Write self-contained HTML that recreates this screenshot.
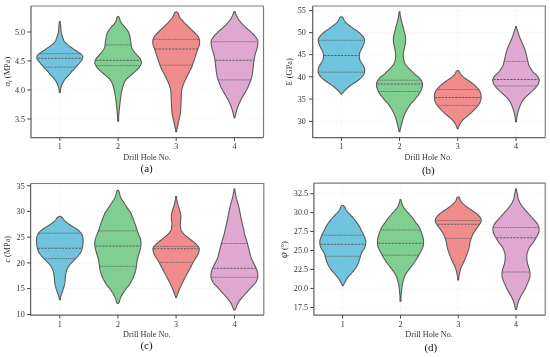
<!DOCTYPE html>
<html lang="en"><head><meta charset="utf-8"><title>Violin plots</title>
<style>html,body{margin:0;padding:0;background:#fff;}svg{display:block;}</style></head>
<body>
<svg style="will-change:transform" width="550" height="357" viewBox="0 0 550 357" font-family="'Liberation Serif', 'Times New Roman', serif" fill="#333">
<rect width="550" height="357" fill="#fff"/>
<line x1="31.0" y1="32.0" x2="263.5" y2="32.0" stroke="#f2f2f2" stroke-width="0.5"/>
<line x1="31.0" y1="60.9" x2="263.5" y2="60.9" stroke="#f2f2f2" stroke-width="0.5"/>
<line x1="31.0" y1="90.0" x2="263.5" y2="90.0" stroke="#f2f2f2" stroke-width="0.5"/>
<line x1="31.0" y1="119.0" x2="263.5" y2="119.0" stroke="#f2f2f2" stroke-width="0.5"/>
<line x1="59.8" y1="6.0" x2="59.8" y2="137.5" stroke="#f2f2f2" stroke-width="0.5"/>
<line x1="118.1" y1="6.0" x2="118.1" y2="137.5" stroke="#f2f2f2" stroke-width="0.5"/>
<line x1="176.2" y1="6.0" x2="176.2" y2="137.5" stroke="#f2f2f2" stroke-width="0.5"/>
<line x1="234.5" y1="6.0" x2="234.5" y2="137.5" stroke="#f2f2f2" stroke-width="0.5"/>
<path d="M59.30 21.50 L59.30 22.30 L59.30 23.10 L59.22 23.89 L59.07 24.69 L58.97 25.49 L58.89 26.29 L58.83 27.08 L58.78 27.88 L58.74 28.68 L58.69 29.48 L58.63 30.28 L58.55 31.07 L58.44 31.87 L58.27 32.67 L58.06 33.47 L57.82 34.26 L57.58 35.06 L57.34 35.86 L57.09 36.66 L56.83 37.46 L56.55 38.25 L56.28 39.05 L56.00 39.85 L55.68 40.65 L55.25 41.44 L54.63 42.24 L53.85 43.04 L52.99 43.84 L52.12 44.63 L51.18 45.43 L50.16 46.23 L49.06 47.03 L47.87 47.83 L46.66 48.62 L45.41 49.42 L44.17 50.22 L42.99 51.02 L41.82 51.81 L40.60 52.61 L39.35 53.41 L38.39 54.21 L37.75 55.01 L37.16 55.80 L36.87 56.60 L36.80 57.40 L36.92 58.20 L37.25 58.99 L37.66 59.79 L38.23 60.59 L38.90 61.39 L39.53 62.19 L40.16 62.98 L40.80 63.78 L41.47 64.58 L42.15 65.38 L42.86 66.17 L43.57 66.97 L44.28 67.77 L45.00 68.57 L45.73 69.37 L46.50 70.16 L47.33 70.96 L48.11 71.76 L48.74 72.56 L49.27 73.35 L49.88 74.15 L50.65 74.95 L51.45 75.75 L52.22 76.54 L52.96 77.34 L53.65 78.14 L54.30 78.94 L54.90 79.74 L55.43 80.53 L55.93 81.33 L56.38 82.13 L56.82 82.93 L57.22 83.72 L57.57 84.52 L57.87 85.32 L58.14 86.12 L58.39 86.92 L58.62 87.71 L58.84 88.51 L59.03 89.31 L59.22 90.11 L59.30 90.90 L59.30 91.70 L59.30 92.50 L60.30 92.50 L60.30 91.70 L60.30 90.90 L60.38 90.11 L60.57 89.31 L60.76 88.51 L60.98 87.71 L61.21 86.92 L61.46 86.12 L61.73 85.32 L62.03 84.52 L62.38 83.72 L62.78 82.93 L63.22 82.13 L63.67 81.33 L64.17 80.53 L64.70 79.74 L65.30 78.94 L65.95 78.14 L66.64 77.34 L67.38 76.54 L68.15 75.75 L68.95 74.95 L69.72 74.15 L70.33 73.35 L70.86 72.56 L71.49 71.76 L72.27 70.96 L73.10 70.16 L73.87 69.37 L74.60 68.57 L75.32 67.77 L76.03 66.97 L76.74 66.17 L77.45 65.38 L78.13 64.58 L78.80 63.78 L79.44 62.98 L80.07 62.19 L80.70 61.39 L81.37 60.59 L81.94 59.79 L82.35 58.99 L82.68 58.20 L82.80 57.40 L82.73 56.60 L82.44 55.80 L81.85 55.01 L81.21 54.21 L80.25 53.41 L79.00 52.61 L77.78 51.81 L76.61 51.02 L75.43 50.22 L74.19 49.42 L72.94 48.62 L71.73 47.83 L70.54 47.03 L69.44 46.23 L68.42 45.43 L67.48 44.63 L66.61 43.84 L65.75 43.04 L64.97 42.24 L64.35 41.44 L63.92 40.65 L63.60 39.85 L63.32 39.05 L63.05 38.25 L62.77 37.46 L62.51 36.66 L62.26 35.86 L62.02 35.06 L61.78 34.26 L61.54 33.47 L61.33 32.67 L61.16 31.87 L61.05 31.07 L60.97 30.28 L60.91 29.48 L60.86 28.68 L60.82 27.88 L60.77 27.08 L60.71 26.29 L60.63 25.49 L60.53 24.69 L60.38 23.89 L60.30 23.10 L60.30 22.30 L60.30 21.50Z" fill="#70c4dd" stroke="#5c5c5c" stroke-width="1.12" stroke-linejoin="round"/>
<line x1="39.45" y1="53.70" x2="80.15" y2="53.70" stroke="#5c5c5c" stroke-width="0.8" stroke-dasharray="1.1 0.7"/>
<line x1="37.46" y1="58.30" x2="82.14" y2="58.30" stroke="#5c5c5c" stroke-width="1.05" stroke-dasharray="2.3 1.1"/>
<line x1="44.19" y1="67.10" x2="75.41" y2="67.10" stroke="#5c5c5c" stroke-width="0.8" stroke-dasharray="1.1 0.7"/>
<path d="M117.60 16.55 L116.84 17.73 L116.51 18.90 L116.27 20.08 L115.87 21.26 L115.22 22.43 L114.43 23.61 L113.42 24.79 L112.37 25.97 L111.31 27.14 L110.30 28.32 L109.37 29.50 L108.53 30.67 L107.87 31.85 L107.31 33.03 L106.86 34.20 L106.53 35.38 L106.26 36.56 L106.04 37.74 L105.86 38.91 L105.69 40.09 L105.47 41.27 L105.30 42.44 L105.20 43.62 L105.12 44.80 L105.00 45.97 L104.70 47.15 L104.20 48.33 L103.61 49.51 L102.84 50.68 L101.96 51.86 L101.02 53.04 L99.97 54.21 L98.90 55.39 L97.76 56.57 L96.65 57.74 L95.92 58.92 L95.39 60.10 L95.03 61.27 L94.79 62.45 L94.88 63.63 L95.45 64.81 L96.08 65.98 L96.83 67.16 L97.73 68.34 L98.85 69.51 L100.08 70.69 L101.40 71.87 L102.80 73.04 L104.16 74.22 L105.52 75.40 L106.91 76.58 L108.33 77.75 L109.47 78.93 L110.42 80.11 L111.19 81.28 L111.82 82.46 L112.34 83.64 L112.78 84.81 L113.15 85.99 L113.48 87.17 L113.79 88.34 L114.07 89.52 L114.33 90.70 L114.59 91.88 L114.83 93.05 L115.04 94.23 L115.23 95.41 L115.40 96.58 L115.57 97.76 L115.72 98.94 L115.87 100.11 L116.02 101.29 L116.16 102.47 L116.29 103.65 L116.43 104.82 L116.56 106.00 L116.69 107.18 L116.81 108.35 L116.93 109.53 L117.05 110.71 L117.17 111.88 L117.27 113.06 L117.37 114.24 L117.48 115.42 L117.58 116.59 L117.60 117.77 L117.60 118.95 L117.60 120.12 L117.60 121.30 L118.60 121.30 L118.60 120.12 L118.60 118.95 L118.60 117.77 L118.62 116.59 L118.72 115.42 L118.83 114.24 L118.93 113.06 L119.03 111.88 L119.15 110.71 L119.27 109.53 L119.39 108.35 L119.51 107.18 L119.64 106.00 L119.77 104.82 L119.91 103.65 L120.04 102.47 L120.18 101.29 L120.33 100.11 L120.48 98.94 L120.63 97.76 L120.80 96.58 L120.97 95.41 L121.16 94.23 L121.37 93.05 L121.61 91.88 L121.87 90.70 L122.13 89.52 L122.41 88.34 L122.72 87.17 L123.05 85.99 L123.42 84.81 L123.86 83.64 L124.38 82.46 L125.01 81.28 L125.78 80.11 L126.73 78.93 L127.87 77.75 L129.29 76.58 L130.68 75.40 L132.04 74.22 L133.40 73.04 L134.80 71.87 L136.12 70.69 L137.35 69.51 L138.47 68.34 L139.37 67.16 L140.12 65.98 L140.75 64.81 L141.32 63.63 L141.41 62.45 L141.17 61.27 L140.81 60.10 L140.28 58.92 L139.55 57.74 L138.44 56.57 L137.30 55.39 L136.23 54.21 L135.18 53.04 L134.24 51.86 L133.36 50.68 L132.59 49.51 L132.00 48.33 L131.50 47.15 L131.20 45.97 L131.08 44.80 L131.00 43.62 L130.90 42.44 L130.73 41.27 L130.51 40.09 L130.34 38.91 L130.16 37.74 L129.94 36.56 L129.67 35.38 L129.34 34.20 L128.89 33.03 L128.33 31.85 L127.67 30.67 L126.83 29.50 L125.90 28.32 L124.89 27.14 L123.83 25.97 L122.78 24.79 L121.77 23.61 L120.98 22.43 L120.33 21.26 L119.93 20.08 L119.69 18.90 L119.36 17.73 L118.60 16.55Z" fill="#81cf90" stroke="#5c5c5c" stroke-width="1.12" stroke-linejoin="round"/>
<line x1="105.61" y1="44.90" x2="130.59" y2="44.90" stroke="#5c5c5c" stroke-width="0.8" stroke-dasharray="1.1 0.7"/>
<line x1="95.82" y1="60.30" x2="140.38" y2="60.30" stroke="#5c5c5c" stroke-width="1.05" stroke-dasharray="2.3 1.1"/>
<line x1="96.36" y1="65.60" x2="139.84" y2="65.60" stroke="#5c5c5c" stroke-width="0.8" stroke-dasharray="1.1 0.7"/>
<path d="M175.70 11.80 L174.29 13.15 L173.89 14.49 L173.48 15.84 L172.82 17.19 L171.86 18.54 L170.51 19.88 L169.40 21.23 L168.17 22.58 L166.81 23.92 L165.43 25.27 L164.08 26.62 L162.66 27.97 L161.22 29.31 L159.81 30.66 L158.45 32.01 L157.15 33.36 L155.86 34.70 L154.72 36.05 L153.88 37.40 L153.30 38.74 L152.89 40.09 L152.78 41.44 L152.76 42.79 L152.92 44.13 L153.30 45.48 L153.78 46.83 L154.22 48.17 L154.69 49.52 L155.15 50.87 L155.61 52.22 L156.08 53.56 L156.54 54.91 L156.98 56.26 L157.41 57.60 L157.84 58.95 L158.28 60.30 L158.74 61.65 L159.20 62.99 L159.68 64.34 L160.16 65.69 L160.66 67.03 L161.23 68.38 L161.94 69.73 L162.69 71.08 L163.39 72.42 L164.06 73.77 L164.72 75.12 L165.38 76.47 L166.05 77.81 L166.71 79.16 L167.35 80.51 L167.97 81.85 L168.57 83.20 L169.11 84.55 L169.58 85.90 L170.03 87.24 L170.38 88.59 L170.62 89.94 L170.80 91.28 L170.95 92.63 L171.05 93.98 L171.11 95.33 L171.16 96.67 L171.20 98.02 L171.23 99.37 L171.28 100.71 L171.33 102.06 L171.40 103.41 L171.48 104.76 L171.55 106.10 L171.63 107.45 L171.71 108.80 L171.78 110.14 L171.86 111.49 L171.99 112.84 L172.22 114.19 L172.48 115.53 L172.75 116.88 L173.06 118.23 L173.37 119.58 L173.66 120.92 L173.95 122.27 L174.23 123.62 L174.50 124.96 L174.78 126.31 L175.11 127.66 L175.47 129.01 L175.70 130.35 L175.70 131.70 L176.70 131.70 L176.70 130.35 L176.93 129.01 L177.29 127.66 L177.62 126.31 L177.90 124.96 L178.17 123.62 L178.45 122.27 L178.74 120.92 L179.03 119.58 L179.34 118.23 L179.65 116.88 L179.92 115.53 L180.18 114.19 L180.41 112.84 L180.54 111.49 L180.62 110.14 L180.69 108.80 L180.77 107.45 L180.85 106.10 L180.92 104.76 L181.00 103.41 L181.07 102.06 L181.12 100.71 L181.17 99.37 L181.20 98.02 L181.24 96.67 L181.29 95.33 L181.35 93.98 L181.45 92.63 L181.60 91.28 L181.78 89.94 L182.02 88.59 L182.37 87.24 L182.82 85.90 L183.29 84.55 L183.83 83.20 L184.43 81.85 L185.05 80.51 L185.69 79.16 L186.35 77.81 L187.02 76.47 L187.68 75.12 L188.34 73.77 L189.01 72.42 L189.71 71.08 L190.46 69.73 L191.17 68.38 L191.74 67.03 L192.24 65.69 L192.72 64.34 L193.20 62.99 L193.66 61.65 L194.12 60.30 L194.56 58.95 L194.99 57.60 L195.42 56.26 L195.86 54.91 L196.32 53.56 L196.79 52.22 L197.25 50.87 L197.71 49.52 L198.18 48.17 L198.62 46.83 L199.10 45.48 L199.48 44.13 L199.64 42.79 L199.62 41.44 L199.51 40.09 L199.10 38.74 L198.52 37.40 L197.68 36.05 L196.54 34.70 L195.25 33.36 L193.95 32.01 L192.59 30.66 L191.18 29.31 L189.74 27.97 L188.32 26.62 L186.97 25.27 L185.59 23.92 L184.23 22.58 L183.00 21.23 L181.89 19.88 L180.54 18.54 L179.58 17.19 L178.92 15.84 L178.51 14.49 L178.11 13.15 L176.70 11.80Z" fill="#f18c8c" stroke="#5c5c5c" stroke-width="1.12" stroke-linejoin="round"/>
<line x1="153.54" y1="39.40" x2="198.86" y2="39.40" stroke="#5c5c5c" stroke-width="0.8" stroke-dasharray="1.1 0.7"/>
<line x1="155.01" y1="49.00" x2="197.39" y2="49.00" stroke="#5c5c5c" stroke-width="1.05" stroke-dasharray="2.3 1.1"/>
<line x1="160.45" y1="65.10" x2="191.95" y2="65.10" stroke="#5c5c5c" stroke-width="0.8" stroke-dasharray="1.1 0.7"/>
<path d="M234.00 11.60 L233.71 12.79 L233.19 13.98 L232.74 15.18 L232.21 16.37 L231.62 17.56 L230.95 18.75 L230.14 19.94 L229.18 21.14 L228.15 22.33 L227.07 23.52 L225.94 24.71 L224.70 25.91 L223.38 27.10 L222.12 28.29 L220.86 29.48 L219.54 30.67 L218.19 31.87 L216.89 33.06 L215.72 34.25 L214.60 35.44 L213.57 36.63 L212.73 37.83 L211.97 39.02 L211.44 40.21 L211.16 41.40 L211.05 42.60 L211.14 43.79 L211.30 44.98 L211.50 46.17 L211.77 47.36 L212.06 48.56 L212.38 49.75 L212.73 50.94 L213.11 52.13 L213.47 53.32 L213.81 54.52 L214.09 55.71 L214.35 56.90 L214.58 58.09 L214.80 59.29 L215.00 60.48 L215.18 61.67 L215.34 62.86 L215.48 64.05 L215.60 65.25 L215.72 66.44 L215.84 67.63 L215.96 68.82 L216.10 70.01 L216.25 71.21 L216.41 72.40 L216.59 73.59 L216.80 74.78 L217.03 75.98 L217.29 77.17 L217.60 78.36 L217.99 79.55 L218.44 80.74 L218.89 81.94 L219.33 83.13 L219.80 84.32 L220.29 85.51 L220.83 86.70 L221.39 87.90 L221.99 89.09 L222.63 90.28 L223.32 91.47 L224.01 92.67 L224.68 93.86 L225.36 95.05 L226.04 96.24 L226.75 97.43 L227.46 98.63 L228.11 99.82 L228.67 101.01 L229.19 102.20 L229.71 103.39 L230.23 104.59 L230.73 105.78 L231.21 106.97 L231.65 108.16 L232.06 109.36 L232.43 110.55 L232.75 111.74 L233.03 112.93 L233.27 114.12 L233.53 115.32 L233.95 116.51 L234.00 117.70 L235.00 117.70 L235.05 116.51 L235.47 115.32 L235.73 114.12 L235.97 112.93 L236.25 111.74 L236.57 110.55 L236.94 109.36 L237.35 108.16 L237.79 106.97 L238.27 105.78 L238.77 104.59 L239.29 103.39 L239.81 102.20 L240.33 101.01 L240.89 99.82 L241.54 98.63 L242.25 97.43 L242.96 96.24 L243.64 95.05 L244.32 93.86 L244.99 92.67 L245.68 91.47 L246.37 90.28 L247.01 89.09 L247.61 87.90 L248.17 86.70 L248.71 85.51 L249.20 84.32 L249.67 83.13 L250.11 81.94 L250.56 80.74 L251.01 79.55 L251.40 78.36 L251.71 77.17 L251.97 75.98 L252.20 74.78 L252.41 73.59 L252.59 72.40 L252.75 71.21 L252.90 70.01 L253.04 68.82 L253.16 67.63 L253.28 66.44 L253.40 65.25 L253.52 64.05 L253.66 62.86 L253.82 61.67 L254.00 60.48 L254.20 59.29 L254.42 58.09 L254.65 56.90 L254.91 55.71 L255.19 54.52 L255.53 53.32 L255.89 52.13 L256.27 50.94 L256.62 49.75 L256.94 48.56 L257.23 47.36 L257.50 46.17 L257.70 44.98 L257.86 43.79 L257.95 42.60 L257.84 41.40 L257.56 40.21 L257.03 39.02 L256.27 37.83 L255.43 36.63 L254.40 35.44 L253.28 34.25 L252.11 33.06 L250.81 31.87 L249.46 30.67 L248.14 29.48 L246.88 28.29 L245.62 27.10 L244.30 25.91 L243.06 24.71 L241.93 23.52 L240.85 22.33 L239.82 21.14 L238.86 19.94 L238.05 18.75 L237.38 17.56 L236.79 16.37 L236.26 15.18 L235.81 13.98 L235.29 12.79 L235.00 11.60Z" fill="#dea8d1" stroke="#5c5c5c" stroke-width="1.12" stroke-linejoin="round"/>
<line x1="211.61" y1="41.70" x2="257.39" y2="41.70" stroke="#5c5c5c" stroke-width="0.8" stroke-dasharray="1.1 0.7"/>
<line x1="215.46" y1="60.20" x2="253.54" y2="60.20" stroke="#5c5c5c" stroke-width="1.05" stroke-dasharray="2.3 1.1"/>
<line x1="218.62" y1="79.90" x2="250.38" y2="79.90" stroke="#5c5c5c" stroke-width="0.8" stroke-dasharray="1.1 0.7"/>
<path d="M31.0 6.0 H263.5 V137.5" fill="none" stroke="#7c7c7c" stroke-width="1.15"/>
<path d="M31.0 6.0 V137.5 H263.5" fill="none" stroke="#636363" stroke-width="1.25"/>
<line x1="27.4" y1="32.0" x2="31.0" y2="32.0" stroke="#444" stroke-width="1"/>
<text x="25.1" y="34.7" font-size="8.1" text-anchor="end">5.0</text>
<line x1="27.4" y1="60.9" x2="31.0" y2="60.9" stroke="#444" stroke-width="1"/>
<text x="25.1" y="63.6" font-size="8.1" text-anchor="end">4.5</text>
<line x1="27.4" y1="90.0" x2="31.0" y2="90.0" stroke="#444" stroke-width="1"/>
<text x="25.1" y="92.7" font-size="8.1" text-anchor="end">4.0</text>
<line x1="27.4" y1="119.0" x2="31.0" y2="119.0" stroke="#444" stroke-width="1"/>
<text x="25.1" y="121.7" font-size="8.1" text-anchor="end">3.5</text>
<line x1="59.8" y1="137.5" x2="59.8" y2="140.9" stroke="#444" stroke-width="1"/>
<text x="59.8" y="149.1" font-size="8.1" text-anchor="middle">1</text>
<line x1="118.1" y1="137.5" x2="118.1" y2="140.9" stroke="#444" stroke-width="1"/>
<text x="118.1" y="149.1" font-size="8.1" text-anchor="middle">2</text>
<line x1="176.2" y1="137.5" x2="176.2" y2="140.9" stroke="#444" stroke-width="1"/>
<text x="176.2" y="149.1" font-size="8.1" text-anchor="middle">3</text>
<line x1="234.5" y1="137.5" x2="234.5" y2="140.9" stroke="#444" stroke-width="1"/>
<text x="234.5" y="149.1" font-size="8.1" text-anchor="middle">4</text>
<text x="147.1" y="159.8" font-size="8.2" text-anchor="middle">Drill Hole No.</text>
<text x="146.6" y="171.6" font-size="11" text-anchor="middle" fill="#111">(a)</text>
<line x1="312.7" y1="10.6" x2="545.3" y2="10.6" stroke="#f2f2f2" stroke-width="0.5"/>
<line x1="312.7" y1="32.6" x2="545.3" y2="32.6" stroke="#f2f2f2" stroke-width="0.5"/>
<line x1="312.7" y1="54.6" x2="545.3" y2="54.6" stroke="#f2f2f2" stroke-width="0.5"/>
<line x1="312.7" y1="76.8" x2="545.3" y2="76.8" stroke="#f2f2f2" stroke-width="0.5"/>
<line x1="312.7" y1="99.1" x2="545.3" y2="99.1" stroke="#f2f2f2" stroke-width="0.5"/>
<line x1="312.7" y1="121.4" x2="545.3" y2="121.4" stroke="#f2f2f2" stroke-width="0.5"/>
<line x1="341.4" y1="6.0" x2="341.4" y2="137.5" stroke="#f2f2f2" stroke-width="0.5"/>
<line x1="399.5" y1="6.0" x2="399.5" y2="137.5" stroke="#f2f2f2" stroke-width="0.5"/>
<line x1="457.7" y1="6.0" x2="457.7" y2="137.5" stroke="#f2f2f2" stroke-width="0.5"/>
<line x1="516.0" y1="6.0" x2="516.0" y2="137.5" stroke="#f2f2f2" stroke-width="0.5"/>
<path d="M340.90 16.70 L339.83 17.57 L339.32 18.44 L338.99 19.31 L338.66 20.18 L338.16 21.05 L337.46 21.92 L336.63 22.79 L335.73 23.66 L334.72 24.53 L333.59 25.40 L332.43 26.27 L331.25 27.14 L330.02 28.01 L328.78 28.88 L327.49 29.74 L326.18 30.61 L324.97 31.48 L323.90 32.35 L322.91 33.22 L322.01 34.09 L321.17 34.96 L320.41 35.83 L319.72 36.70 L319.09 37.57 L318.65 38.44 L318.34 39.31 L318.20 40.18 L318.27 41.05 L318.45 41.92 L318.69 42.79 L318.96 43.66 L319.25 44.53 L319.61 45.40 L320.01 46.27 L320.43 47.14 L320.85 48.01 L321.31 48.88 L321.78 49.75 L322.20 50.62 L322.55 51.49 L322.90 52.36 L323.22 53.23 L323.44 54.10 L323.50 54.97 L323.49 55.83 L323.46 56.70 L323.41 57.57 L323.35 58.44 L323.15 59.31 L322.80 60.18 L322.37 61.05 L321.92 61.92 L321.37 62.79 L320.79 63.66 L320.19 64.53 L319.63 65.40 L319.20 66.27 L318.78 67.14 L318.43 68.01 L318.23 68.88 L318.20 69.75 L318.20 70.62 L318.20 71.49 L318.21 72.36 L318.44 73.23 L318.89 74.10 L319.42 74.97 L319.98 75.84 L320.68 76.71 L321.48 77.58 L322.37 78.45 L323.42 79.32 L324.58 80.19 L325.77 81.06 L327.00 81.92 L328.27 82.79 L329.54 83.66 L330.80 84.53 L332.05 85.40 L333.22 86.27 L334.30 87.14 L335.31 88.01 L336.30 88.88 L337.24 89.75 L338.15 90.62 L339.00 91.49 L339.67 92.36 L340.42 93.23 L340.90 94.10 L341.90 94.10 L342.38 93.23 L343.13 92.36 L343.80 91.49 L344.65 90.62 L345.56 89.75 L346.50 88.88 L347.49 88.01 L348.50 87.14 L349.58 86.27 L350.75 85.40 L352.00 84.53 L353.26 83.66 L354.53 82.79 L355.80 81.92 L357.03 81.06 L358.22 80.19 L359.38 79.32 L360.43 78.45 L361.32 77.58 L362.12 76.71 L362.82 75.84 L363.38 74.97 L363.91 74.10 L364.36 73.23 L364.59 72.36 L364.60 71.49 L364.60 70.62 L364.60 69.75 L364.57 68.88 L364.37 68.01 L364.02 67.14 L363.60 66.27 L363.17 65.40 L362.61 64.53 L362.01 63.66 L361.43 62.79 L360.88 61.92 L360.43 61.05 L360.00 60.18 L359.65 59.31 L359.45 58.44 L359.39 57.57 L359.34 56.70 L359.31 55.83 L359.30 54.97 L359.36 54.10 L359.58 53.23 L359.90 52.36 L360.25 51.49 L360.60 50.62 L361.02 49.75 L361.49 48.88 L361.95 48.01 L362.37 47.14 L362.79 46.27 L363.19 45.40 L363.55 44.53 L363.84 43.66 L364.11 42.79 L364.35 41.92 L364.53 41.05 L364.60 40.18 L364.46 39.31 L364.15 38.44 L363.71 37.57 L363.08 36.70 L362.39 35.83 L361.63 34.96 L360.79 34.09 L359.89 33.22 L358.90 32.35 L357.83 31.48 L356.62 30.61 L355.31 29.74 L354.02 28.88 L352.78 28.01 L351.55 27.14 L350.37 26.27 L349.21 25.40 L348.08 24.53 L347.07 23.66 L346.17 22.79 L345.34 21.92 L344.64 21.05 L344.14 20.18 L343.81 19.31 L343.48 18.44 L342.97 17.57 L341.90 16.70Z" fill="#70c4dd" stroke="#5c5c5c" stroke-width="1.12" stroke-linejoin="round"/>
<line x1="318.70" y1="40.30" x2="364.10" y2="40.30" stroke="#5c5c5c" stroke-width="0.8" stroke-dasharray="1.1 0.7"/>
<line x1="323.99" y1="55.50" x2="358.81" y2="55.50" stroke="#5c5c5c" stroke-width="1.05" stroke-dasharray="2.3 1.1"/>
<line x1="318.70" y1="72.20" x2="364.10" y2="72.20" stroke="#5c5c5c" stroke-width="0.8" stroke-dasharray="1.1 0.7"/>
<path d="M399.00 11.90 L399.00 13.25 L398.89 14.59 L398.61 15.94 L398.34 17.28 L398.08 18.63 L397.79 19.98 L397.48 21.32 L397.14 22.67 L396.79 24.01 L396.39 25.36 L396.00 26.71 L395.65 28.05 L395.34 29.40 L395.01 30.74 L394.63 32.09 L394.26 33.44 L393.96 34.78 L393.72 36.13 L393.51 37.48 L393.37 38.82 L393.36 40.17 L393.47 41.51 L393.64 42.86 L393.84 44.21 L394.07 45.55 L394.37 46.90 L394.69 48.24 L394.98 49.59 L395.22 50.94 L395.42 52.28 L395.56 53.63 L395.67 54.97 L395.68 56.32 L395.54 57.67 L395.35 59.01 L395.06 60.36 L394.71 61.70 L394.26 63.05 L393.63 64.40 L392.62 65.74 L391.44 67.09 L390.11 68.43 L388.72 69.78 L387.37 71.13 L386.03 72.47 L384.72 73.82 L383.15 75.17 L381.26 76.51 L379.82 77.86 L378.63 79.20 L377.73 80.55 L377.04 81.90 L376.52 83.24 L376.50 84.59 L376.51 85.93 L376.77 87.28 L377.25 88.63 L377.76 89.97 L378.38 91.32 L379.11 92.66 L379.93 94.01 L380.88 95.36 L381.93 96.70 L383.14 98.05 L384.05 99.39 L385.21 100.74 L386.66 102.09 L387.81 103.43 L388.82 104.78 L389.75 106.12 L390.64 107.47 L391.50 108.82 L392.29 110.16 L393.01 111.51 L393.67 112.86 L394.27 114.20 L394.82 115.55 L395.32 116.89 L395.79 118.24 L396.21 119.59 L396.57 120.93 L396.89 122.28 L397.21 123.62 L397.55 124.97 L397.91 126.32 L398.28 127.66 L398.66 129.01 L399.00 130.35 L399.00 131.70 L400.00 131.70 L400.00 130.35 L400.34 129.01 L400.72 127.66 L401.09 126.32 L401.45 124.97 L401.79 123.62 L402.11 122.28 L402.43 120.93 L402.79 119.59 L403.21 118.24 L403.68 116.89 L404.18 115.55 L404.73 114.20 L405.33 112.86 L405.99 111.51 L406.71 110.16 L407.50 108.82 L408.36 107.47 L409.25 106.12 L410.18 104.78 L411.19 103.43 L412.34 102.09 L413.79 100.74 L414.95 99.39 L415.86 98.05 L417.07 96.70 L418.12 95.36 L419.07 94.01 L419.89 92.66 L420.62 91.32 L421.24 89.97 L421.75 88.63 L422.23 87.28 L422.49 85.93 L422.50 84.59 L422.48 83.24 L421.96 81.90 L421.27 80.55 L420.37 79.20 L419.18 77.86 L417.74 76.51 L415.85 75.17 L414.28 73.82 L412.97 72.47 L411.63 71.13 L410.28 69.78 L408.89 68.43 L407.56 67.09 L406.38 65.74 L405.37 64.40 L404.74 63.05 L404.29 61.70 L403.94 60.36 L403.65 59.01 L403.46 57.67 L403.32 56.32 L403.33 54.97 L403.44 53.63 L403.58 52.28 L403.78 50.94 L404.02 49.59 L404.31 48.24 L404.63 46.90 L404.93 45.55 L405.16 44.21 L405.36 42.86 L405.53 41.51 L405.64 40.17 L405.63 38.82 L405.49 37.48 L405.28 36.13 L405.04 34.78 L404.74 33.44 L404.37 32.09 L403.99 30.74 L403.66 29.40 L403.35 28.05 L403.00 26.71 L402.61 25.36 L402.21 24.01 L401.86 22.67 L401.52 21.32 L401.21 19.98 L400.92 18.63 L400.66 17.28 L400.39 15.94 L400.11 14.59 L400.00 13.25 L400.00 11.90Z" fill="#81cf90" stroke="#5c5c5c" stroke-width="1.12" stroke-linejoin="round"/>
<line x1="378.44" y1="80.20" x2="420.56" y2="80.20" stroke="#5c5c5c" stroke-width="0.8" stroke-dasharray="1.1 0.7"/>
<line x1="377.00" y1="83.90" x2="422.00" y2="83.90" stroke="#5c5c5c" stroke-width="1.05" stroke-dasharray="2.3 1.1"/>
<line x1="378.97" y1="91.50" x2="420.03" y2="91.50" stroke="#5c5c5c" stroke-width="0.8" stroke-dasharray="1.1 0.7"/>
<path d="M457.20 70.55 L456.49 71.20 L455.99 71.86 L455.62 72.51 L455.33 73.17 L455.02 73.82 L454.60 74.48 L454.05 75.13 L453.39 75.79 L452.67 76.44 L451.91 77.09 L451.08 77.75 L450.15 78.40 L449.19 79.06 L448.23 79.71 L447.27 80.37 L446.29 81.02 L445.33 81.68 L444.42 82.33 L443.56 82.99 L442.73 83.64 L441.93 84.29 L441.17 84.95 L440.45 85.60 L439.76 86.26 L439.10 86.91 L438.48 87.57 L437.90 88.22 L437.34 88.88 L436.82 89.53 L436.33 90.18 L435.90 90.84 L435.50 91.49 L435.13 92.15 L434.85 92.80 L434.69 93.46 L434.56 94.11 L434.46 94.77 L434.40 95.42 L434.40 96.08 L434.40 96.73 L434.40 97.38 L434.40 98.04 L434.40 98.69 L434.47 99.35 L434.62 100.00 L434.82 100.66 L435.04 101.31 L435.27 101.97 L435.57 102.62 L435.93 103.27 L436.31 103.93 L436.72 104.58 L437.16 105.24 L437.65 105.89 L438.17 106.55 L438.72 107.20 L439.30 107.86 L439.94 108.51 L440.60 109.17 L441.27 109.82 L441.92 110.47 L442.55 111.13 L443.17 111.78 L443.81 112.44 L444.48 113.09 L445.21 113.75 L445.99 114.40 L446.79 115.06 L447.57 115.71 L448.31 116.36 L449.05 117.02 L449.81 117.67 L450.63 118.33 L451.52 118.98 L452.24 119.64 L452.83 120.29 L453.36 120.95 L453.87 121.60 L454.34 122.26 L454.77 122.91 L455.16 123.56 L455.51 124.22 L455.84 124.87 L456.13 125.53 L456.41 126.18 L456.71 126.84 L457.03 127.49 L457.20 128.15 L457.20 128.80 L458.20 128.80 L458.20 128.15 L458.37 127.49 L458.69 126.84 L458.99 126.18 L459.27 125.53 L459.56 124.87 L459.89 124.22 L460.24 123.56 L460.63 122.91 L461.06 122.26 L461.53 121.60 L462.04 120.95 L462.57 120.29 L463.16 119.64 L463.88 118.98 L464.77 118.33 L465.59 117.67 L466.35 117.02 L467.09 116.36 L467.83 115.71 L468.61 115.06 L469.41 114.40 L470.19 113.75 L470.92 113.09 L471.59 112.44 L472.23 111.78 L472.85 111.13 L473.48 110.47 L474.13 109.82 L474.80 109.17 L475.46 108.51 L476.10 107.86 L476.68 107.20 L477.23 106.55 L477.75 105.89 L478.24 105.24 L478.68 104.58 L479.09 103.93 L479.47 103.27 L479.83 102.62 L480.13 101.97 L480.36 101.31 L480.58 100.66 L480.78 100.00 L480.93 99.35 L481.00 98.69 L481.00 98.04 L481.00 97.38 L481.00 96.73 L481.00 96.08 L481.00 95.42 L480.94 94.77 L480.84 94.11 L480.71 93.46 L480.55 92.80 L480.27 92.15 L479.90 91.49 L479.50 90.84 L479.07 90.18 L478.58 89.53 L478.06 88.88 L477.50 88.22 L476.92 87.57 L476.30 86.91 L475.64 86.26 L474.95 85.60 L474.23 84.95 L473.47 84.29 L472.67 83.64 L471.84 82.99 L470.98 82.33 L470.07 81.68 L469.11 81.02 L468.13 80.37 L467.17 79.71 L466.21 79.06 L465.25 78.40 L464.32 77.75 L463.49 77.09 L462.73 76.44 L462.01 75.79 L461.35 75.13 L460.80 74.48 L460.38 73.82 L460.07 73.17 L459.78 72.51 L459.41 71.86 L458.91 71.20 L458.20 70.55Z" fill="#f18c8c" stroke="#5c5c5c" stroke-width="1.12" stroke-linejoin="round"/>
<line x1="437.34" y1="89.50" x2="478.06" y2="89.50" stroke="#5c5c5c" stroke-width="0.8" stroke-dasharray="1.1 0.7"/>
<line x1="434.90" y1="97.50" x2="480.50" y2="97.50" stroke="#5c5c5c" stroke-width="1.05" stroke-dasharray="2.3 1.1"/>
<line x1="437.77" y1="105.40" x2="477.63" y2="105.40" stroke="#5c5c5c" stroke-width="0.8" stroke-dasharray="1.1 0.7"/>
<path d="M515.50 26.60 L515.50 27.67 L515.18 28.74 L514.80 29.81 L514.43 30.88 L514.08 31.95 L513.73 33.02 L513.37 34.09 L513.02 35.16 L512.65 36.23 L512.28 37.30 L511.87 38.37 L511.44 39.44 L510.99 40.51 L510.54 41.58 L510.08 42.64 L509.59 43.71 L509.09 44.78 L508.60 45.85 L508.13 46.92 L507.70 47.99 L507.31 49.06 L506.95 50.13 L506.61 51.20 L506.29 52.27 L505.99 53.34 L505.72 54.41 L505.46 55.48 L505.21 56.55 L504.96 57.62 L504.74 58.69 L504.51 59.76 L504.27 60.83 L504.01 61.90 L503.76 62.97 L503.48 64.04 L503.14 65.11 L502.70 66.18 L502.09 67.25 L501.38 68.32 L500.68 69.39 L500.01 70.46 L499.29 71.53 L498.42 72.60 L497.15 73.67 L495.86 74.73 L494.89 75.80 L494.04 76.87 L493.43 77.94 L492.95 79.01 L492.75 80.08 L492.86 81.15 L493.10 82.22 L493.41 83.29 L493.92 84.36 L494.58 85.43 L495.35 86.50 L496.31 87.57 L497.35 88.64 L498.37 89.71 L499.44 90.78 L500.56 91.85 L501.77 92.92 L503.02 93.99 L504.20 95.06 L505.35 96.13 L506.42 97.20 L507.39 98.27 L508.31 99.34 L509.14 100.41 L509.85 101.48 L510.44 102.55 L510.96 103.62 L511.44 104.69 L511.88 105.76 L512.31 106.82 L512.71 107.89 L513.08 108.96 L513.43 110.03 L513.76 111.10 L514.07 112.17 L514.36 113.24 L514.61 114.31 L514.82 115.38 L515.00 116.45 L515.17 117.52 L515.34 118.59 L515.50 119.66 L515.50 120.73 L515.50 121.80 L516.50 121.80 L516.50 120.73 L516.50 119.66 L516.66 118.59 L516.83 117.52 L517.00 116.45 L517.18 115.38 L517.39 114.31 L517.64 113.24 L517.93 112.17 L518.24 111.10 L518.57 110.03 L518.92 108.96 L519.29 107.89 L519.69 106.82 L520.12 105.76 L520.56 104.69 L521.04 103.62 L521.56 102.55 L522.15 101.48 L522.86 100.41 L523.69 99.34 L524.61 98.27 L525.58 97.20 L526.65 96.13 L527.80 95.06 L528.98 93.99 L530.23 92.92 L531.44 91.85 L532.56 90.78 L533.63 89.71 L534.65 88.64 L535.69 87.57 L536.65 86.50 L537.42 85.43 L538.08 84.36 L538.59 83.29 L538.90 82.22 L539.14 81.15 L539.25 80.08 L539.05 79.01 L538.57 77.94 L537.96 76.87 L537.11 75.80 L536.14 74.73 L534.85 73.67 L533.58 72.60 L532.71 71.53 L531.99 70.46 L531.32 69.39 L530.62 68.32 L529.91 67.25 L529.30 66.18 L528.86 65.11 L528.52 64.04 L528.24 62.97 L527.99 61.90 L527.73 60.83 L527.49 59.76 L527.26 58.69 L527.04 57.62 L526.79 56.55 L526.54 55.48 L526.28 54.41 L526.01 53.34 L525.71 52.27 L525.39 51.20 L525.05 50.13 L524.69 49.06 L524.30 47.99 L523.87 46.92 L523.40 45.85 L522.91 44.78 L522.41 43.71 L521.92 42.64 L521.46 41.58 L521.01 40.51 L520.56 39.44 L520.13 38.37 L519.72 37.30 L519.35 36.23 L518.98 35.16 L518.63 34.09 L518.27 33.02 L517.92 31.95 L517.57 30.88 L517.20 29.81 L516.82 28.74 L516.50 27.67 L516.50 26.60Z" fill="#dea8d1" stroke="#5c5c5c" stroke-width="1.12" stroke-linejoin="round"/>
<line x1="504.63" y1="61.40" x2="527.37" y2="61.40" stroke="#5c5c5c" stroke-width="0.8" stroke-dasharray="1.1 0.7"/>
<line x1="493.31" y1="79.50" x2="538.69" y2="79.50" stroke="#5c5c5c" stroke-width="1.05" stroke-dasharray="2.3 1.1"/>
<line x1="495.40" y1="85.90" x2="536.60" y2="85.90" stroke="#5c5c5c" stroke-width="0.8" stroke-dasharray="1.1 0.7"/>
<path d="M312.7 6.0 H545.3 V137.5" fill="none" stroke="#7c7c7c" stroke-width="1.15"/>
<path d="M312.7 6.0 V137.5 H545.3" fill="none" stroke="#636363" stroke-width="1.25"/>
<line x1="309.09999999999997" y1="10.6" x2="312.7" y2="10.6" stroke="#444" stroke-width="1"/>
<text x="305.90000000000003" y="13.3" font-size="8.1" text-anchor="end">55</text>
<line x1="309.09999999999997" y1="32.6" x2="312.7" y2="32.6" stroke="#444" stroke-width="1"/>
<text x="305.90000000000003" y="35.300000000000004" font-size="8.1" text-anchor="end">50</text>
<line x1="309.09999999999997" y1="54.6" x2="312.7" y2="54.6" stroke="#444" stroke-width="1"/>
<text x="305.90000000000003" y="57.300000000000004" font-size="8.1" text-anchor="end">45</text>
<line x1="309.09999999999997" y1="76.8" x2="312.7" y2="76.8" stroke="#444" stroke-width="1"/>
<text x="305.90000000000003" y="79.5" font-size="8.1" text-anchor="end">40</text>
<line x1="309.09999999999997" y1="99.1" x2="312.7" y2="99.1" stroke="#444" stroke-width="1"/>
<text x="305.90000000000003" y="101.8" font-size="8.1" text-anchor="end">35</text>
<line x1="309.09999999999997" y1="121.4" x2="312.7" y2="121.4" stroke="#444" stroke-width="1"/>
<text x="305.90000000000003" y="124.10000000000001" font-size="8.1" text-anchor="end">30</text>
<line x1="341.4" y1="137.5" x2="341.4" y2="140.9" stroke="#444" stroke-width="1"/>
<text x="341.4" y="149.1" font-size="8.1" text-anchor="middle">1</text>
<line x1="399.5" y1="137.5" x2="399.5" y2="140.9" stroke="#444" stroke-width="1"/>
<text x="399.5" y="149.1" font-size="8.1" text-anchor="middle">2</text>
<line x1="457.7" y1="137.5" x2="457.7" y2="140.9" stroke="#444" stroke-width="1"/>
<text x="457.7" y="149.1" font-size="8.1" text-anchor="middle">3</text>
<line x1="516.0" y1="137.5" x2="516.0" y2="140.9" stroke="#444" stroke-width="1"/>
<text x="516.0" y="149.1" font-size="8.1" text-anchor="middle">4</text>
<text x="428.3" y="159.8" font-size="8.2" text-anchor="middle">Drill Hole No.</text>
<text x="428.3" y="174.1" font-size="11" text-anchor="middle" fill="#111">(b)</text>
<line x1="30.6" y1="185.8" x2="263.8" y2="185.8" stroke="#f2f2f2" stroke-width="0.5"/>
<line x1="30.6" y1="211.4" x2="263.8" y2="211.4" stroke="#f2f2f2" stroke-width="0.5"/>
<line x1="30.6" y1="237.2" x2="263.8" y2="237.2" stroke="#f2f2f2" stroke-width="0.5"/>
<line x1="30.6" y1="262.9" x2="263.8" y2="262.9" stroke="#f2f2f2" stroke-width="0.5"/>
<line x1="30.6" y1="288.6" x2="263.8" y2="288.6" stroke="#f2f2f2" stroke-width="0.5"/>
<line x1="30.6" y1="314.5" x2="263.8" y2="314.5" stroke="#f2f2f2" stroke-width="0.5"/>
<line x1="59.8" y1="183.5" x2="59.8" y2="315.2" stroke="#f2f2f2" stroke-width="0.5"/>
<line x1="117.9" y1="183.5" x2="117.9" y2="315.2" stroke="#f2f2f2" stroke-width="0.5"/>
<line x1="176.1" y1="183.5" x2="176.1" y2="315.2" stroke="#f2f2f2" stroke-width="0.5"/>
<line x1="234.4" y1="183.5" x2="234.4" y2="315.2" stroke="#f2f2f2" stroke-width="0.5"/>
<path d="M59.30 216.40 L57.37 217.34 L56.68 218.27 L56.10 219.21 L55.48 220.14 L54.59 221.08 L53.47 222.02 L52.27 222.95 L51.02 223.89 L49.67 224.82 L48.22 225.76 L46.61 226.70 L45.05 227.63 L43.64 228.57 L42.32 229.50 L41.16 230.44 L40.11 231.38 L39.21 232.31 L38.50 233.25 L37.87 234.18 L37.38 235.12 L37.07 236.06 L36.83 236.99 L36.66 237.93 L36.57 238.86 L36.52 239.80 L36.50 240.73 L36.52 241.67 L36.56 242.61 L36.62 243.54 L36.69 244.48 L36.78 245.41 L36.93 246.35 L37.11 247.29 L37.33 248.22 L37.57 249.16 L37.90 250.09 L38.30 251.03 L38.77 251.97 L39.29 252.90 L39.87 253.84 L40.56 254.77 L41.33 255.71 L42.15 256.65 L42.97 257.58 L43.84 258.52 L44.78 259.45 L45.73 260.39 L46.66 261.33 L47.54 262.26 L48.43 263.20 L49.31 264.13 L50.13 265.07 L50.82 266.01 L51.40 266.94 L51.94 267.88 L52.41 268.81 L52.81 269.75 L53.12 270.69 L53.37 271.62 L53.58 272.56 L53.76 273.49 L53.92 274.43 L54.05 275.37 L54.16 276.30 L54.25 277.24 L54.34 278.17 L54.43 279.11 L54.52 280.04 L54.61 280.98 L54.69 281.92 L54.79 282.85 L54.91 283.79 L55.09 284.72 L55.31 285.66 L55.56 286.60 L55.83 287.53 L56.11 288.47 L56.41 289.40 L56.74 290.34 L57.07 291.28 L57.40 292.21 L57.72 293.15 L58.04 294.08 L58.35 295.02 L58.66 295.96 L58.95 296.89 L59.24 297.83 L59.30 298.76 L59.30 299.70 L60.30 299.70 L60.30 298.76 L60.36 297.83 L60.65 296.89 L60.94 295.96 L61.25 295.02 L61.56 294.08 L61.88 293.15 L62.20 292.21 L62.53 291.28 L62.86 290.34 L63.19 289.40 L63.49 288.47 L63.77 287.53 L64.04 286.60 L64.29 285.66 L64.51 284.72 L64.69 283.79 L64.81 282.85 L64.91 281.92 L64.99 280.98 L65.08 280.04 L65.17 279.11 L65.26 278.17 L65.35 277.24 L65.44 276.30 L65.55 275.37 L65.68 274.43 L65.84 273.49 L66.02 272.56 L66.23 271.62 L66.48 270.69 L66.79 269.75 L67.19 268.81 L67.66 267.88 L68.20 266.94 L68.78 266.01 L69.47 265.07 L70.29 264.13 L71.17 263.20 L72.06 262.26 L72.94 261.33 L73.87 260.39 L74.82 259.45 L75.76 258.52 L76.63 257.58 L77.45 256.65 L78.27 255.71 L79.04 254.77 L79.73 253.84 L80.31 252.90 L80.83 251.97 L81.30 251.03 L81.70 250.09 L82.03 249.16 L82.27 248.22 L82.49 247.29 L82.67 246.35 L82.82 245.41 L82.91 244.48 L82.98 243.54 L83.04 242.61 L83.08 241.67 L83.10 240.73 L83.08 239.80 L83.03 238.86 L82.94 237.93 L82.77 236.99 L82.53 236.06 L82.22 235.12 L81.73 234.18 L81.10 233.25 L80.39 232.31 L79.49 231.38 L78.44 230.44 L77.28 229.50 L75.96 228.57 L74.55 227.63 L72.99 226.70 L71.38 225.76 L69.93 224.82 L68.58 223.89 L67.33 222.95 L66.13 222.02 L65.01 221.08 L64.12 220.14 L63.50 219.21 L62.92 218.27 L62.23 217.34 L60.30 216.40Z" fill="#70c4dd" stroke="#5c5c5c" stroke-width="1.12" stroke-linejoin="round"/>
<line x1="39.03" y1="233.20" x2="80.57" y2="233.20" stroke="#5c5c5c" stroke-width="0.8" stroke-dasharray="1.1 0.7"/>
<line x1="37.85" y1="248.30" x2="81.75" y2="248.30" stroke="#5c5c5c" stroke-width="1.05" stroke-dasharray="2.3 1.1"/>
<line x1="44.42" y1="258.60" x2="75.18" y2="258.60" stroke="#5c5c5c" stroke-width="0.8" stroke-dasharray="1.1 0.7"/>
<path d="M117.40 190.30 L116.70 191.57 L116.39 192.84 L116.11 194.12 L115.79 195.39 L115.35 196.66 L114.81 197.93 L114.10 199.20 L113.27 200.48 L112.48 201.75 L111.69 203.02 L110.88 204.29 L110.03 205.56 L109.18 206.83 L108.33 208.11 L107.49 209.38 L106.63 210.65 L105.69 211.92 L104.90 213.19 L104.36 214.47 L103.86 215.74 L103.35 217.01 L102.85 218.28 L102.36 219.55 L101.88 220.83 L101.42 222.10 L100.96 223.37 L100.52 224.64 L100.10 225.91 L99.69 227.19 L99.30 228.46 L98.89 229.73 L98.45 231.00 L98.00 232.27 L97.52 233.54 L97.03 234.82 L96.47 236.09 L95.92 237.36 L95.50 238.63 L95.20 239.90 L94.93 241.18 L94.77 242.45 L94.76 243.72 L94.84 244.99 L94.96 246.26 L95.12 247.54 L95.39 248.81 L95.72 250.08 L96.08 251.35 L96.42 252.62 L96.79 253.90 L97.18 255.17 L97.56 256.44 L97.95 257.71 L98.35 258.98 L98.65 260.26 L98.86 261.53 L99.02 262.80 L99.18 264.07 L99.31 265.34 L99.45 266.61 L99.64 267.89 L99.87 269.16 L100.14 270.43 L100.46 271.70 L100.85 272.97 L101.28 274.25 L101.75 275.52 L102.26 276.79 L102.83 278.06 L103.46 279.33 L104.15 280.61 L104.85 281.88 L105.51 283.15 L106.23 284.42 L107.13 285.69 L108.28 286.97 L109.34 288.24 L110.27 289.51 L111.16 290.78 L112.02 292.05 L112.84 293.32 L113.67 294.60 L114.43 295.87 L115.04 297.14 L115.55 298.41 L115.95 299.68 L116.20 300.96 L116.63 302.23 L117.40 303.50 L118.40 303.50 L119.17 302.23 L119.60 300.96 L119.85 299.68 L120.25 298.41 L120.76 297.14 L121.37 295.87 L122.13 294.60 L122.96 293.32 L123.78 292.05 L124.64 290.78 L125.53 289.51 L126.46 288.24 L127.52 286.97 L128.67 285.69 L129.57 284.42 L130.29 283.15 L130.95 281.88 L131.65 280.61 L132.34 279.33 L132.97 278.06 L133.54 276.79 L134.05 275.52 L134.52 274.25 L134.95 272.97 L135.34 271.70 L135.66 270.43 L135.93 269.16 L136.16 267.89 L136.35 266.61 L136.49 265.34 L136.62 264.07 L136.78 262.80 L136.94 261.53 L137.15 260.26 L137.45 258.98 L137.85 257.71 L138.24 256.44 L138.62 255.17 L139.01 253.90 L139.38 252.62 L139.72 251.35 L140.08 250.08 L140.41 248.81 L140.68 247.54 L140.84 246.26 L140.96 244.99 L141.04 243.72 L141.03 242.45 L140.87 241.18 L140.60 239.90 L140.30 238.63 L139.88 237.36 L139.33 236.09 L138.77 234.82 L138.28 233.54 L137.80 232.27 L137.35 231.00 L136.91 229.73 L136.50 228.46 L136.11 227.19 L135.70 225.91 L135.28 224.64 L134.84 223.37 L134.38 222.10 L133.92 220.83 L133.44 219.55 L132.95 218.28 L132.45 217.01 L131.94 215.74 L131.44 214.47 L130.90 213.19 L130.11 211.92 L129.17 210.65 L128.31 209.38 L127.47 208.11 L126.62 206.83 L125.77 205.56 L124.92 204.29 L124.11 203.02 L123.32 201.75 L122.53 200.48 L121.70 199.20 L120.99 197.93 L120.45 196.66 L120.01 195.39 L119.69 194.12 L119.41 192.84 L119.10 191.57 L118.40 190.30Z" fill="#81cf90" stroke="#5c5c5c" stroke-width="1.12" stroke-linejoin="round"/>
<line x1="98.99" y1="230.90" x2="136.81" y2="230.90" stroke="#5c5c5c" stroke-width="0.8" stroke-dasharray="1.1 0.7"/>
<line x1="95.42" y1="245.95" x2="140.38" y2="245.95" stroke="#5c5c5c" stroke-width="1.05" stroke-dasharray="2.3 1.1"/>
<line x1="99.91" y1="266.30" x2="135.89" y2="266.30" stroke="#5c5c5c" stroke-width="0.8" stroke-dasharray="1.1 0.7"/>
<path d="M175.60 196.50 L175.60 197.63 L175.60 198.77 L175.42 199.90 L175.17 201.04 L174.91 202.17 L174.63 203.31 L174.34 204.44 L174.02 205.58 L173.67 206.71 L173.30 207.85 L172.95 208.98 L172.60 210.12 L172.26 211.25 L171.97 212.39 L171.69 213.52 L171.43 214.66 L171.30 215.79 L171.30 216.93 L171.30 218.06 L171.36 219.20 L171.57 220.33 L171.83 221.47 L172.00 222.60 L172.00 223.74 L171.98 224.87 L171.77 226.01 L171.61 227.14 L171.50 228.28 L171.33 229.41 L170.87 230.54 L170.15 231.68 L169.30 232.81 L168.34 233.95 L167.16 235.08 L165.88 236.22 L164.47 237.35 L163.00 238.49 L161.55 239.62 L160.11 240.76 L158.72 241.89 L157.38 243.03 L156.14 244.16 L155.02 245.30 L154.05 246.43 L153.29 247.57 L152.90 248.70 L152.97 249.84 L153.12 250.97 L153.32 252.11 L153.71 253.24 L154.27 254.38 L154.86 255.51 L155.52 256.65 L156.24 257.78 L156.97 258.92 L157.74 260.05 L158.49 261.19 L159.14 262.32 L159.70 263.46 L160.22 264.59 L160.76 265.72 L161.35 266.86 L161.96 267.99 L162.59 269.13 L163.22 270.26 L163.84 271.40 L164.46 272.53 L165.09 273.67 L165.70 274.80 L166.29 275.94 L166.87 277.07 L167.45 278.21 L168.02 279.34 L168.60 280.48 L169.17 281.61 L169.73 282.75 L170.29 283.88 L170.85 285.02 L171.41 286.15 L171.94 287.29 L172.44 288.42 L172.89 289.56 L173.32 290.69 L173.74 291.83 L174.18 292.96 L174.60 294.10 L175.05 295.23 L175.56 296.37 L175.60 297.50 L176.60 297.50 L176.64 296.37 L177.15 295.23 L177.60 294.10 L178.02 292.96 L178.46 291.83 L178.88 290.69 L179.31 289.56 L179.76 288.42 L180.26 287.29 L180.79 286.15 L181.35 285.02 L181.91 283.88 L182.47 282.75 L183.03 281.61 L183.60 280.48 L184.18 279.34 L184.75 278.21 L185.33 277.07 L185.91 275.94 L186.50 274.80 L187.11 273.67 L187.74 272.53 L188.36 271.40 L188.98 270.26 L189.61 269.13 L190.24 267.99 L190.85 266.86 L191.44 265.72 L191.98 264.59 L192.50 263.46 L193.06 262.32 L193.71 261.19 L194.46 260.05 L195.23 258.92 L195.96 257.78 L196.68 256.65 L197.34 255.51 L197.93 254.38 L198.49 253.24 L198.88 252.11 L199.08 250.97 L199.23 249.84 L199.30 248.70 L198.91 247.57 L198.15 246.43 L197.18 245.30 L196.06 244.16 L194.82 243.03 L193.48 241.89 L192.09 240.76 L190.65 239.62 L189.20 238.49 L187.73 237.35 L186.32 236.22 L185.04 235.08 L183.86 233.95 L182.90 232.81 L182.05 231.68 L181.33 230.54 L180.87 229.41 L180.70 228.28 L180.59 227.14 L180.43 226.01 L180.22 224.87 L180.20 223.74 L180.20 222.60 L180.37 221.47 L180.63 220.33 L180.84 219.20 L180.90 218.06 L180.90 216.93 L180.90 215.79 L180.77 214.66 L180.51 213.52 L180.23 212.39 L179.94 211.25 L179.60 210.12 L179.25 208.98 L178.90 207.85 L178.53 206.71 L178.18 205.58 L177.86 204.44 L177.57 203.31 L177.29 202.17 L177.03 201.04 L176.78 199.90 L176.60 198.77 L176.60 197.63 L176.60 196.50Z" fill="#f18c8c" stroke="#5c5c5c" stroke-width="1.12" stroke-linejoin="round"/>
<line x1="154.58" y1="246.40" x2="197.62" y2="246.40" stroke="#5c5c5c" stroke-width="0.8" stroke-dasharray="1.1 0.7"/>
<line x1="153.40" y1="248.80" x2="198.80" y2="248.80" stroke="#5c5c5c" stroke-width="1.05" stroke-dasharray="2.3 1.1"/>
<line x1="159.68" y1="262.40" x2="192.52" y2="262.40" stroke="#5c5c5c" stroke-width="0.8" stroke-dasharray="1.1 0.7"/>
<path d="M233.90 189.10 L233.90 190.46 L233.71 191.81 L233.43 193.17 L233.19 194.53 L232.94 195.89 L232.64 197.24 L232.31 198.60 L231.95 199.96 L231.57 201.32 L231.15 202.67 L230.74 204.03 L230.38 205.39 L230.05 206.74 L229.75 208.10 L229.46 209.46 L229.18 210.82 L228.91 212.17 L228.65 213.53 L228.38 214.89 L228.12 216.25 L227.84 217.60 L227.55 218.96 L227.25 220.32 L226.94 221.68 L226.64 223.03 L226.33 224.39 L226.01 225.75 L225.69 227.10 L225.38 228.46 L225.07 229.82 L224.80 231.18 L224.53 232.53 L224.25 233.89 L223.90 235.25 L223.46 236.61 L223.00 237.96 L222.55 239.32 L222.15 240.68 L221.77 242.03 L221.41 243.39 L221.05 244.75 L220.70 246.11 L220.36 247.46 L220.02 248.82 L219.68 250.18 L219.35 251.54 L219.01 252.89 L218.66 254.25 L218.32 255.61 L217.94 256.97 L217.46 258.32 L216.84 259.68 L216.15 261.04 L215.48 262.39 L214.80 263.75 L214.12 265.11 L213.48 266.47 L212.85 267.82 L212.26 269.18 L211.80 270.54 L211.38 271.90 L211.07 273.25 L211.00 274.61 L211.00 275.97 L211.01 277.32 L211.33 278.68 L211.87 280.04 L212.45 281.40 L213.23 282.75 L214.39 284.11 L215.82 285.47 L217.10 286.83 L218.33 288.18 L219.56 289.54 L220.78 290.90 L222.00 292.26 L223.22 293.61 L224.48 294.97 L225.74 296.33 L226.92 297.68 L228.04 299.04 L229.07 300.40 L230.02 301.76 L230.90 303.11 L231.64 304.47 L232.14 305.83 L232.55 307.19 L233.23 308.54 L233.90 309.90 L234.90 309.90 L235.57 308.54 L236.25 307.19 L236.66 305.83 L237.16 304.47 L237.90 303.11 L238.78 301.76 L239.73 300.40 L240.76 299.04 L241.88 297.68 L243.06 296.33 L244.32 294.97 L245.58 293.61 L246.80 292.26 L248.02 290.90 L249.24 289.54 L250.47 288.18 L251.70 286.83 L252.98 285.47 L254.41 284.11 L255.57 282.75 L256.35 281.40 L256.93 280.04 L257.47 278.68 L257.79 277.32 L257.80 275.97 L257.80 274.61 L257.73 273.25 L257.42 271.90 L257.00 270.54 L256.54 269.18 L255.95 267.82 L255.32 266.47 L254.68 265.11 L254.00 263.75 L253.32 262.39 L252.65 261.04 L251.96 259.68 L251.34 258.32 L250.86 256.97 L250.48 255.61 L250.14 254.25 L249.79 252.89 L249.45 251.54 L249.12 250.18 L248.78 248.82 L248.44 247.46 L248.10 246.11 L247.75 244.75 L247.39 243.39 L247.03 242.03 L246.65 240.68 L246.25 239.32 L245.80 237.96 L245.34 236.61 L244.90 235.25 L244.55 233.89 L244.27 232.53 L244.00 231.18 L243.73 229.82 L243.42 228.46 L243.11 227.10 L242.79 225.75 L242.47 224.39 L242.16 223.03 L241.86 221.68 L241.55 220.32 L241.25 218.96 L240.96 217.60 L240.68 216.25 L240.42 214.89 L240.15 213.53 L239.89 212.17 L239.62 210.82 L239.34 209.46 L239.05 208.10 L238.75 206.74 L238.42 205.39 L238.06 204.03 L237.65 202.67 L237.23 201.32 L236.85 199.96 L236.49 198.60 L236.16 197.24 L235.86 195.89 L235.61 194.53 L235.37 193.17 L235.09 191.81 L234.90 190.46 L234.90 189.10Z" fill="#dea8d1" stroke="#5c5c5c" stroke-width="1.12" stroke-linejoin="round"/>
<line x1="221.88" y1="243.50" x2="246.92" y2="243.50" stroke="#5c5c5c" stroke-width="0.8" stroke-dasharray="1.1 0.7"/>
<line x1="213.18" y1="268.20" x2="255.62" y2="268.20" stroke="#5c5c5c" stroke-width="1.05" stroke-dasharray="2.3 1.1"/>
<line x1="211.51" y1="277.30" x2="257.29" y2="277.30" stroke="#5c5c5c" stroke-width="0.8" stroke-dasharray="1.1 0.7"/>
<path d="M30.6 183.5 H263.8 V315.2" fill="none" stroke="#7c7c7c" stroke-width="1.15"/>
<path d="M30.6 183.5 V315.2 H263.8" fill="none" stroke="#636363" stroke-width="1.25"/>
<line x1="27.0" y1="185.8" x2="30.6" y2="185.8" stroke="#444" stroke-width="1"/>
<text x="24.700000000000003" y="188.5" font-size="8.1" text-anchor="end">35</text>
<line x1="27.0" y1="211.4" x2="30.6" y2="211.4" stroke="#444" stroke-width="1"/>
<text x="24.700000000000003" y="214.1" font-size="8.1" text-anchor="end">30</text>
<line x1="27.0" y1="237.2" x2="30.6" y2="237.2" stroke="#444" stroke-width="1"/>
<text x="24.700000000000003" y="239.89999999999998" font-size="8.1" text-anchor="end">25</text>
<line x1="27.0" y1="262.9" x2="30.6" y2="262.9" stroke="#444" stroke-width="1"/>
<text x="24.700000000000003" y="265.59999999999997" font-size="8.1" text-anchor="end">20</text>
<line x1="27.0" y1="288.6" x2="30.6" y2="288.6" stroke="#444" stroke-width="1"/>
<text x="24.700000000000003" y="291.3" font-size="8.1" text-anchor="end">15</text>
<line x1="27.0" y1="314.5" x2="30.6" y2="314.5" stroke="#444" stroke-width="1"/>
<text x="24.700000000000003" y="317.2" font-size="8.1" text-anchor="end">10</text>
<line x1="59.8" y1="315.2" x2="59.8" y2="318.59999999999997" stroke="#444" stroke-width="1"/>
<text x="59.8" y="326.7" font-size="8.1" text-anchor="middle">1</text>
<line x1="117.9" y1="315.2" x2="117.9" y2="318.59999999999997" stroke="#444" stroke-width="1"/>
<text x="117.9" y="326.7" font-size="8.1" text-anchor="middle">2</text>
<line x1="176.1" y1="315.2" x2="176.1" y2="318.59999999999997" stroke="#444" stroke-width="1"/>
<text x="176.1" y="326.7" font-size="8.1" text-anchor="middle">3</text>
<line x1="234.4" y1="315.2" x2="234.4" y2="318.59999999999997" stroke="#444" stroke-width="1"/>
<text x="234.4" y="326.7" font-size="8.1" text-anchor="middle">4</text>
<text x="146.8" y="337.1" font-size="8.2" text-anchor="middle">Drill Hole No.</text>
<text x="146.5" y="348.9" font-size="11" text-anchor="middle" fill="#111">(c)</text>
<line x1="313.9" y1="193.7" x2="545.2" y2="193.7" stroke="#f2f2f2" stroke-width="0.5"/>
<line x1="313.9" y1="212.6" x2="545.2" y2="212.6" stroke="#f2f2f2" stroke-width="0.5"/>
<line x1="313.9" y1="231.5" x2="545.2" y2="231.5" stroke="#f2f2f2" stroke-width="0.5"/>
<line x1="313.9" y1="250.5" x2="545.2" y2="250.5" stroke="#f2f2f2" stroke-width="0.5"/>
<line x1="313.9" y1="269.4" x2="545.2" y2="269.4" stroke="#f2f2f2" stroke-width="0.5"/>
<line x1="313.9" y1="288.4" x2="545.2" y2="288.4" stroke="#f2f2f2" stroke-width="0.5"/>
<line x1="313.9" y1="307.5" x2="545.2" y2="307.5" stroke="#f2f2f2" stroke-width="0.5"/>
<line x1="342.7" y1="183.1" x2="342.7" y2="315.2" stroke="#f2f2f2" stroke-width="0.5"/>
<line x1="400.5" y1="183.1" x2="400.5" y2="315.2" stroke="#f2f2f2" stroke-width="0.5"/>
<line x1="458.2" y1="183.1" x2="458.2" y2="315.2" stroke="#f2f2f2" stroke-width="0.5"/>
<line x1="516.0" y1="183.1" x2="516.0" y2="315.2" stroke="#f2f2f2" stroke-width="0.5"/>
<path d="M342.30 205.50 L341.09 206.40 L340.60 207.30 L340.26 208.20 L340.00 209.10 L339.59 210.00 L338.96 210.90 L338.21 211.80 L337.42 212.70 L336.54 213.60 L335.60 214.50 L334.70 215.40 L333.87 216.30 L333.08 217.20 L332.30 218.10 L331.55 219.00 L330.81 219.90 L330.08 220.80 L329.38 221.70 L328.72 222.60 L328.08 223.50 L327.46 224.40 L326.88 225.30 L326.34 226.20 L325.83 227.10 L325.36 228.00 L324.91 228.90 L324.49 229.80 L324.08 230.70 L323.62 231.60 L323.14 232.50 L322.67 233.40 L322.22 234.30 L321.81 235.20 L321.44 236.10 L321.09 237.00 L320.76 237.90 L320.47 238.80 L320.16 239.70 L319.88 240.60 L319.74 241.50 L319.77 242.40 L319.85 243.30 L319.96 244.20 L320.11 245.10 L320.35 246.00 L320.66 246.90 L321.03 247.80 L321.45 248.70 L322.01 249.60 L322.62 250.50 L323.18 251.40 L323.74 252.30 L324.18 253.20 L324.50 254.10 L324.77 255.00 L325.02 255.90 L325.29 256.80 L325.56 257.70 L325.82 258.60 L326.09 259.50 L326.36 260.40 L326.65 261.30 L326.97 262.20 L327.33 263.10 L327.73 264.00 L328.15 264.90 L328.59 265.80 L329.07 266.70 L329.60 267.60 L330.21 268.50 L330.90 269.40 L331.62 270.30 L332.35 271.20 L333.10 272.10 L333.88 273.00 L334.68 273.90 L335.53 274.80 L336.35 275.70 L337.09 276.60 L337.78 277.50 L338.43 278.40 L339.02 279.30 L339.56 280.20 L340.07 281.10 L340.57 282.00 L341.05 282.90 L341.56 283.80 L342.15 284.70 L342.30 285.60 L343.30 285.60 L343.45 284.70 L344.04 283.80 L344.55 282.90 L345.03 282.00 L345.53 281.10 L346.04 280.20 L346.58 279.30 L347.17 278.40 L347.82 277.50 L348.51 276.60 L349.25 275.70 L350.07 274.80 L350.92 273.90 L351.72 273.00 L352.50 272.10 L353.25 271.20 L353.98 270.30 L354.70 269.40 L355.39 268.50 L356.00 267.60 L356.53 266.70 L357.01 265.80 L357.45 264.90 L357.87 264.00 L358.27 263.10 L358.63 262.20 L358.95 261.30 L359.24 260.40 L359.51 259.50 L359.78 258.60 L360.04 257.70 L360.31 256.80 L360.58 255.90 L360.83 255.00 L361.10 254.10 L361.42 253.20 L361.86 252.30 L362.42 251.40 L362.98 250.50 L363.59 249.60 L364.15 248.70 L364.57 247.80 L364.94 246.90 L365.25 246.00 L365.49 245.10 L365.64 244.20 L365.75 243.30 L365.83 242.40 L365.86 241.50 L365.72 240.60 L365.44 239.70 L365.13 238.80 L364.84 237.90 L364.51 237.00 L364.16 236.10 L363.79 235.20 L363.38 234.30 L362.93 233.40 L362.46 232.50 L361.98 231.60 L361.52 230.70 L361.11 229.80 L360.69 228.90 L360.24 228.00 L359.77 227.10 L359.26 226.20 L358.72 225.30 L358.14 224.40 L357.52 223.50 L356.88 222.60 L356.22 221.70 L355.52 220.80 L354.79 219.90 L354.05 219.00 L353.30 218.10 L352.52 217.20 L351.73 216.30 L350.90 215.40 L350.00 214.50 L349.06 213.60 L348.18 212.70 L347.39 211.80 L346.64 210.90 L346.01 210.00 L345.60 209.10 L345.34 208.20 L345.00 207.30 L344.51 206.40 L343.30 205.50Z" fill="#70c4dd" stroke="#5c5c5c" stroke-width="1.12" stroke-linejoin="round"/>
<line x1="322.29" y1="235.25" x2="363.31" y2="235.25" stroke="#5c5c5c" stroke-width="0.8" stroke-dasharray="1.1 0.7"/>
<line x1="320.47" y1="244.30" x2="365.13" y2="244.30" stroke="#5c5c5c" stroke-width="1.05" stroke-dasharray="2.3 1.1"/>
<line x1="325.64" y1="256.30" x2="359.96" y2="256.30" stroke="#5c5c5c" stroke-width="0.8" stroke-dasharray="1.1 0.7"/>
<path d="M400.00 199.50 L399.94 200.64 L399.52 201.79 L399.26 202.93 L398.97 204.07 L398.53 205.21 L397.94 206.36 L397.26 207.50 L396.43 208.64 L395.50 209.78 L394.54 210.93 L393.54 212.07 L392.52 213.21 L391.51 214.36 L390.49 215.50 L389.49 216.64 L388.53 217.78 L387.60 218.93 L386.73 220.07 L385.99 221.21 L385.33 222.35 L384.50 223.50 L383.45 224.64 L382.61 225.78 L381.95 226.92 L381.37 228.07 L380.85 229.21 L380.36 230.35 L379.89 231.50 L379.45 232.64 L379.04 233.78 L378.68 234.92 L378.38 236.07 L378.07 237.21 L377.79 238.35 L377.59 239.49 L377.50 240.64 L377.50 241.78 L377.50 242.92 L377.50 244.07 L377.57 245.21 L377.89 246.35 L378.27 247.49 L378.75 248.64 L379.32 249.78 L379.93 250.92 L380.53 252.06 L381.11 253.21 L381.70 254.35 L382.32 255.49 L382.96 256.63 L383.63 257.78 L384.33 258.92 L385.07 260.06 L385.84 261.21 L386.64 262.35 L387.45 263.49 L388.28 264.63 L389.13 265.78 L390.00 266.92 L390.90 268.06 L391.81 269.20 L392.67 270.35 L393.48 271.49 L394.28 272.63 L395.02 273.78 L395.66 274.92 L396.19 276.06 L396.67 277.20 L397.09 278.35 L397.46 279.49 L397.79 280.63 L398.08 281.77 L398.34 282.92 L398.57 284.06 L398.78 285.20 L398.96 286.34 L399.12 287.49 L399.26 288.63 L399.37 289.77 L399.46 290.92 L399.56 292.06 L399.67 293.20 L399.79 294.34 L399.91 295.49 L400.00 296.63 L400.00 297.77 L400.00 298.91 L400.00 300.06 L400.00 301.20 L401.00 301.20 L401.00 300.06 L401.00 298.91 L401.00 297.77 L401.00 296.63 L401.09 295.49 L401.21 294.34 L401.33 293.20 L401.44 292.06 L401.54 290.92 L401.63 289.77 L401.74 288.63 L401.88 287.49 L402.04 286.34 L402.22 285.20 L402.43 284.06 L402.66 282.92 L402.92 281.77 L403.21 280.63 L403.54 279.49 L403.91 278.35 L404.33 277.20 L404.81 276.06 L405.34 274.92 L405.98 273.78 L406.72 272.63 L407.52 271.49 L408.33 270.35 L409.19 269.20 L410.10 268.06 L411.00 266.92 L411.87 265.78 L412.72 264.63 L413.55 263.49 L414.36 262.35 L415.16 261.21 L415.93 260.06 L416.67 258.92 L417.37 257.78 L418.04 256.63 L418.68 255.49 L419.30 254.35 L419.89 253.21 L420.47 252.06 L421.07 250.92 L421.68 249.78 L422.25 248.64 L422.73 247.49 L423.11 246.35 L423.43 245.21 L423.50 244.07 L423.50 242.92 L423.50 241.78 L423.50 240.64 L423.41 239.49 L423.21 238.35 L422.93 237.21 L422.62 236.07 L422.32 234.92 L421.96 233.78 L421.55 232.64 L421.11 231.50 L420.64 230.35 L420.15 229.21 L419.63 228.07 L419.05 226.92 L418.39 225.78 L417.55 224.64 L416.50 223.50 L415.67 222.35 L415.01 221.21 L414.27 220.07 L413.40 218.93 L412.47 217.78 L411.51 216.64 L410.51 215.50 L409.49 214.36 L408.48 213.21 L407.46 212.07 L406.46 210.93 L405.50 209.78 L404.57 208.64 L403.74 207.50 L403.06 206.36 L402.47 205.21 L402.03 204.07 L401.74 202.93 L401.48 201.79 L401.06 200.64 L401.00 199.50Z" fill="#81cf90" stroke="#5c5c5c" stroke-width="1.12" stroke-linejoin="round"/>
<line x1="381.01" y1="230.00" x2="419.99" y2="230.00" stroke="#5c5c5c" stroke-width="0.8" stroke-dasharray="1.1 0.7"/>
<line x1="378.00" y1="243.20" x2="423.00" y2="243.20" stroke="#5c5c5c" stroke-width="1.05" stroke-dasharray="2.3 1.1"/>
<line x1="382.66" y1="255.20" x2="418.34" y2="255.20" stroke="#5c5c5c" stroke-width="0.8" stroke-dasharray="1.1 0.7"/>
<path d="M457.70 197.00 L456.78 197.93 L456.61 198.87 L456.31 199.80 L455.89 200.73 L455.29 201.66 L454.47 202.60 L453.57 203.53 L452.60 204.46 L451.51 205.39 L450.34 206.33 L449.05 207.26 L447.69 208.19 L446.35 209.12 L444.99 210.06 L443.63 210.99 L442.26 211.92 L440.90 212.85 L439.70 213.79 L438.67 214.72 L437.76 215.65 L436.96 216.58 L436.19 217.52 L435.65 218.45 L435.40 219.38 L435.23 220.31 L435.23 221.25 L435.57 222.18 L436.10 223.11 L436.64 224.04 L437.21 224.98 L437.86 225.91 L438.53 226.84 L439.19 227.78 L439.88 228.71 L440.57 229.64 L441.24 230.57 L441.86 231.51 L442.47 232.44 L443.04 233.37 L443.55 234.30 L444.00 235.24 L444.39 236.17 L444.74 237.10 L445.07 238.03 L445.39 238.97 L445.71 239.90 L446.00 240.83 L446.25 241.76 L446.44 242.70 L446.59 243.63 L446.73 244.56 L446.90 245.49 L447.09 246.43 L447.30 247.36 L447.53 248.29 L447.78 249.22 L448.05 250.16 L448.35 251.09 L448.66 252.02 L448.98 252.96 L449.32 253.89 L449.66 254.82 L450.02 255.75 L450.38 256.69 L450.76 257.62 L451.14 258.55 L451.54 259.48 L451.95 260.42 L452.38 261.35 L452.83 262.28 L453.28 263.21 L453.71 264.15 L454.16 265.08 L454.61 266.01 L455.03 266.94 L455.41 267.88 L455.72 268.81 L456.01 269.74 L456.27 270.67 L456.51 271.61 L456.72 272.54 L456.92 273.47 L457.09 274.40 L457.27 275.34 L457.45 276.27 L457.64 277.20 L457.70 278.13 L457.70 279.07 L457.70 280.00 L458.70 280.00 L458.70 279.07 L458.70 278.13 L458.76 277.20 L458.95 276.27 L459.13 275.34 L459.31 274.40 L459.48 273.47 L459.68 272.54 L459.89 271.61 L460.13 270.67 L460.39 269.74 L460.68 268.81 L460.99 267.88 L461.37 266.94 L461.79 266.01 L462.24 265.08 L462.69 264.15 L463.12 263.21 L463.57 262.28 L464.02 261.35 L464.45 260.42 L464.86 259.48 L465.26 258.55 L465.64 257.62 L466.02 256.69 L466.38 255.75 L466.74 254.82 L467.08 253.89 L467.42 252.96 L467.74 252.02 L468.05 251.09 L468.35 250.16 L468.62 249.22 L468.87 248.29 L469.10 247.36 L469.31 246.43 L469.50 245.49 L469.67 244.56 L469.81 243.63 L469.96 242.70 L470.15 241.76 L470.40 240.83 L470.69 239.90 L471.01 238.97 L471.33 238.03 L471.66 237.10 L472.01 236.17 L472.40 235.24 L472.85 234.30 L473.36 233.37 L473.93 232.44 L474.54 231.51 L475.16 230.57 L475.83 229.64 L476.52 228.71 L477.21 227.78 L477.87 226.84 L478.54 225.91 L479.19 224.98 L479.76 224.04 L480.30 223.11 L480.83 222.18 L481.17 221.25 L481.17 220.31 L481.00 219.38 L480.75 218.45 L480.21 217.52 L479.44 216.58 L478.64 215.65 L477.73 214.72 L476.70 213.79 L475.50 212.85 L474.14 211.92 L472.77 210.99 L471.41 210.06 L470.05 209.12 L468.71 208.19 L467.35 207.26 L466.06 206.33 L464.89 205.39 L463.80 204.46 L462.83 203.53 L461.93 202.60 L461.11 201.66 L460.51 200.73 L460.09 199.80 L459.79 198.87 L459.62 197.93 L458.70 197.00Z" fill="#f18c8c" stroke="#5c5c5c" stroke-width="1.12" stroke-linejoin="round"/>
<line x1="435.72" y1="220.50" x2="480.68" y2="220.50" stroke="#5c5c5c" stroke-width="0.8" stroke-dasharray="1.1 0.7"/>
<line x1="437.22" y1="224.20" x2="479.18" y2="224.20" stroke="#5c5c5c" stroke-width="1.05" stroke-dasharray="2.3 1.1"/>
<line x1="445.70" y1="238.40" x2="470.70" y2="238.40" stroke="#5c5c5c" stroke-width="0.8" stroke-dasharray="1.1 0.7"/>
<path d="M515.50 188.90 L515.50 190.26 L515.22 191.61 L514.87 192.97 L514.58 194.32 L514.36 195.68 L514.17 197.03 L513.90 198.39 L513.47 199.74 L512.89 201.10 L512.22 202.45 L511.42 203.81 L510.52 205.16 L509.56 206.52 L508.51 207.87 L507.40 209.23 L506.25 210.58 L505.05 211.94 L503.84 213.29 L502.58 214.65 L501.35 216.00 L500.30 217.36 L499.20 218.71 L497.66 220.07 L496.36 221.42 L495.29 222.78 L494.43 224.13 L493.78 225.49 L493.21 226.84 L492.96 228.20 L492.98 229.55 L493.04 230.91 L493.15 232.26 L493.62 233.62 L494.33 234.97 L495.04 236.33 L495.86 237.68 L496.70 239.04 L497.48 240.39 L498.28 241.75 L499.22 243.10 L500.38 244.46 L501.50 245.81 L502.36 247.17 L503.12 248.52 L503.76 249.88 L504.24 251.23 L504.69 252.59 L505.04 253.94 L505.15 255.30 L505.15 256.65 L505.15 258.01 L505.15 259.36 L505.06 260.72 L504.82 262.07 L504.51 263.43 L504.16 264.78 L503.72 266.14 L503.27 267.49 L502.81 268.85 L502.48 270.20 L502.18 271.56 L502.01 272.91 L502.02 274.27 L502.09 275.62 L502.20 276.98 L502.49 278.33 L502.97 279.69 L503.46 281.04 L504.00 282.40 L504.58 283.75 L505.18 285.11 L505.81 286.46 L506.46 287.82 L507.15 289.17 L507.87 290.53 L508.61 291.88 L509.38 293.24 L510.20 294.59 L510.99 295.95 L511.70 297.30 L512.37 298.66 L512.97 300.01 L513.50 301.37 L513.96 302.72 L514.36 304.08 L514.69 305.43 L514.93 306.79 L515.31 308.14 L515.50 309.50 L516.50 309.50 L516.69 308.14 L517.07 306.79 L517.31 305.43 L517.64 304.08 L518.04 302.72 L518.50 301.37 L519.03 300.01 L519.63 298.66 L520.30 297.30 L521.01 295.95 L521.80 294.59 L522.62 293.24 L523.39 291.88 L524.13 290.53 L524.85 289.17 L525.54 287.82 L526.19 286.46 L526.82 285.11 L527.42 283.75 L528.00 282.40 L528.54 281.04 L529.03 279.69 L529.51 278.33 L529.80 276.98 L529.91 275.62 L529.98 274.27 L529.99 272.91 L529.82 271.56 L529.52 270.20 L529.19 268.85 L528.73 267.49 L528.28 266.14 L527.84 264.78 L527.49 263.43 L527.18 262.07 L526.94 260.72 L526.85 259.36 L526.85 258.01 L526.85 256.65 L526.85 255.30 L526.96 253.94 L527.31 252.59 L527.76 251.23 L528.24 249.88 L528.88 248.52 L529.64 247.17 L530.50 245.81 L531.62 244.46 L532.78 243.10 L533.72 241.75 L534.52 240.39 L535.30 239.04 L536.14 237.68 L536.96 236.33 L537.67 234.97 L538.38 233.62 L538.85 232.26 L538.96 230.91 L539.02 229.55 L539.04 228.20 L538.79 226.84 L538.22 225.49 L537.57 224.13 L536.71 222.78 L535.64 221.42 L534.34 220.07 L532.80 218.71 L531.70 217.36 L530.65 216.00 L529.42 214.65 L528.16 213.29 L526.95 211.94 L525.75 210.58 L524.60 209.23 L523.49 207.87 L522.44 206.52 L521.48 205.16 L520.58 203.81 L519.78 202.45 L519.11 201.10 L518.53 199.74 L518.10 198.39 L517.83 197.03 L517.64 195.68 L517.42 194.32 L517.13 192.97 L516.78 191.61 L516.50 190.26 L516.50 188.90Z" fill="#dea8d1" stroke="#5c5c5c" stroke-width="1.12" stroke-linejoin="round"/>
<line x1="493.53" y1="227.50" x2="538.47" y2="227.50" stroke="#5c5c5c" stroke-width="0.8" stroke-dasharray="1.1 0.7"/>
<line x1="496.37" y1="237.70" x2="535.63" y2="237.70" stroke="#5c5c5c" stroke-width="1.05" stroke-dasharray="2.3 1.1"/>
<line x1="502.61" y1="272.00" x2="529.39" y2="272.00" stroke="#5c5c5c" stroke-width="0.8" stroke-dasharray="1.1 0.7"/>
<path d="M313.9 183.1 H545.2 V315.2" fill="none" stroke="#7c7c7c" stroke-width="1.15"/>
<path d="M313.9 183.1 V315.2 H545.2" fill="none" stroke="#636363" stroke-width="1.25"/>
<line x1="310.29999999999995" y1="193.7" x2="313.9" y2="193.7" stroke="#444" stroke-width="1"/>
<text x="308.0" y="196.39999999999998" font-size="8.1" text-anchor="end">32.5</text>
<line x1="310.29999999999995" y1="212.6" x2="313.9" y2="212.6" stroke="#444" stroke-width="1"/>
<text x="308.0" y="215.29999999999998" font-size="8.1" text-anchor="end">30.0</text>
<line x1="310.29999999999995" y1="231.5" x2="313.9" y2="231.5" stroke="#444" stroke-width="1"/>
<text x="308.0" y="234.2" font-size="8.1" text-anchor="end">27.5</text>
<line x1="310.29999999999995" y1="250.5" x2="313.9" y2="250.5" stroke="#444" stroke-width="1"/>
<text x="308.0" y="253.2" font-size="8.1" text-anchor="end">25.0</text>
<line x1="310.29999999999995" y1="269.4" x2="313.9" y2="269.4" stroke="#444" stroke-width="1"/>
<text x="308.0" y="272.09999999999997" font-size="8.1" text-anchor="end">22.5</text>
<line x1="310.29999999999995" y1="288.4" x2="313.9" y2="288.4" stroke="#444" stroke-width="1"/>
<text x="308.0" y="291.09999999999997" font-size="8.1" text-anchor="end">20.0</text>
<line x1="310.29999999999995" y1="307.5" x2="313.9" y2="307.5" stroke="#444" stroke-width="1"/>
<text x="308.0" y="310.2" font-size="8.1" text-anchor="end">17.5</text>
<line x1="342.7" y1="315.2" x2="342.7" y2="318.59999999999997" stroke="#444" stroke-width="1"/>
<text x="342.7" y="326.5" font-size="8.1" text-anchor="middle">1</text>
<line x1="400.5" y1="315.2" x2="400.5" y2="318.59999999999997" stroke="#444" stroke-width="1"/>
<text x="400.5" y="326.5" font-size="8.1" text-anchor="middle">2</text>
<line x1="458.2" y1="315.2" x2="458.2" y2="318.59999999999997" stroke="#444" stroke-width="1"/>
<text x="458.2" y="326.5" font-size="8.1" text-anchor="middle">3</text>
<line x1="516.0" y1="315.2" x2="516.0" y2="318.59999999999997" stroke="#444" stroke-width="1"/>
<text x="516.0" y="326.5" font-size="8.1" text-anchor="middle">4</text>
<text x="429.1" y="337.1" font-size="8.2" text-anchor="middle">Drill Hole No.</text>
<text x="430.8" y="351.3" font-size="11" text-anchor="middle" fill="#111">(d)</text>
<text transform="translate(10.1 71.6) rotate(-90)" font-size="8.4" text-anchor="middle"><tspan font-style="italic" font-size="9.2">σ</tspan><tspan font-style="italic" font-size="6" dy="1.6">t</tspan><tspan dy="-1.6"> (MPa)</tspan></text>
<text transform="translate(291.7 71.8) rotate(-90)" font-size="8.4" text-anchor="middle">E (GPa)</text>
<text transform="translate(9.9 249.3) rotate(-90)" font-size="8.2" text-anchor="middle"><tspan font-style="italic">c</tspan> (MPa)</text>
<text transform="translate(287.4 249.5) rotate(-90)" font-size="8.4" text-anchor="middle"><tspan font-style="italic" font-size="10.5">φ</tspan> (°)</text>
</svg>
</body></html>
